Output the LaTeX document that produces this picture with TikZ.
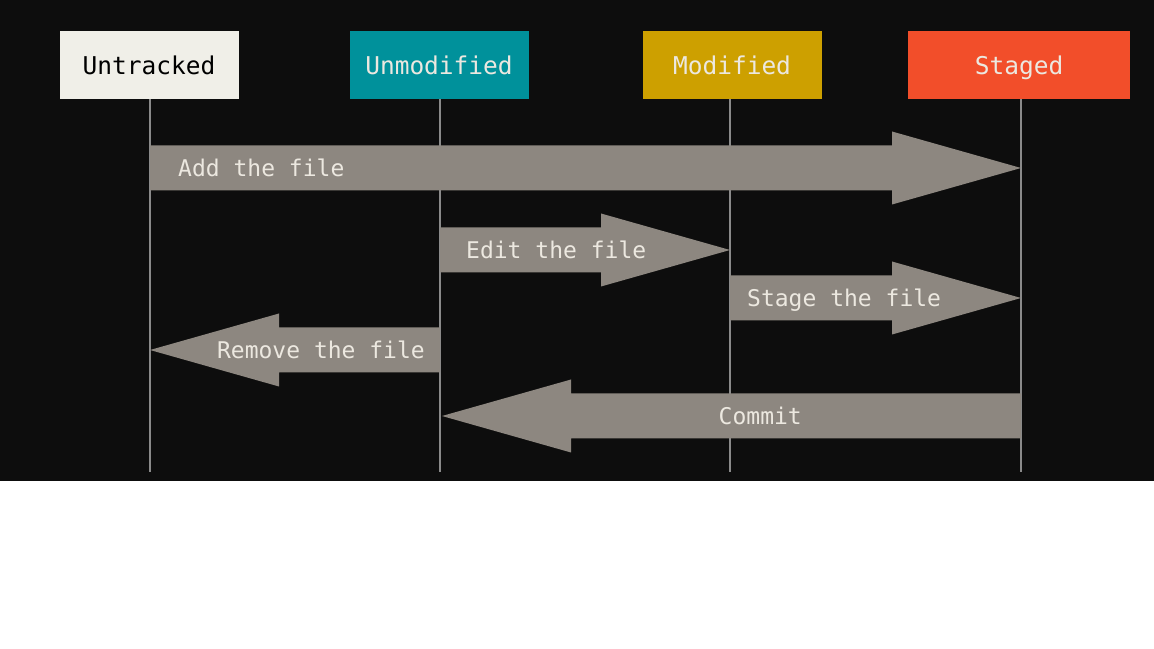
\documentclass[tikz,border=0pt]{standalone}
\usepackage{fontspec}
\setmonofont{DejaVu Sans Mono}
\usetikzlibrary{positioning, calc}

\definecolor{bgdark}{RGB}{13,13,13}
\definecolor{untrackedcol}{RGB}{240,239,232}
\definecolor{unmodifiedcol}{RGB}{0,145,155}
\definecolor{modifiedcol}{RGB}{205,160,0}
\definecolor{stagedcol}{RGB}{242,78,42}
\definecolor{flowgrey}{RGB}{141,135,128}
\definecolor{lifegrey}{RGB}{138,138,138}
\definecolor{labellight}{RGB}{236,232,224}

\begin{document}
\begin{tikzpicture}[
    x=1pt, y=1pt,
    % boxes for the four file states
    state/.style={
        rectangle,
        minimum width=179pt,
        minimum height=68pt,
        inner sep=0pt,
        text depth=0pt,
        font=\ttfamily\fontsize{24.5}{28}\selectfont
    },
    life/.style={draw=lifegrey, line width=1.6pt},
    % fat arrow between two lifelines
    flow/.style={
        fill=flowgrey,
        to path={
            let \p1=(\tikztostart), \p2=(\tikztotarget),
                \p3=({\x2-sign(\x2-\x1)*129pt},\y2) in
            (\x1,\y1+22.5pt) -- (\x3,\y1+22.5pt) -- (\x3,\y1+36.5pt)
            -- (\x2,\y2) -- (\x3,\y1-36.5pt) -- (\x3,\y1-22.5pt)
            -- (\x1,\y1-22.5pt) -- cycle
        }
    },
    flowtext/.style={
        inner sep=0pt,
        text depth=0pt,
        text=labellight,
        font=\ttfamily\fontsize{23}{27}\selectfont
    }
]
    \useasboundingbox (0,0) rectangle (1154,648);
    \fill[white] (0,0) rectangle (1154,648);
    \fill[bgdark] (0,167) rectangle (1154,648);

    % States
    \node [state, fill=untrackedcol, text=black] (untracked) at (149,583) {Untracked};
    \node [state, fill=unmodifiedcol, text=labellight] (unmodified) at (439,583) {Unmodified};
    \node [state, fill=modifiedcol, text=labellight] (modified) at (732,583) {Modified};
    \node [state, fill=stagedcol, text=labellight, minimum width=222pt] (staged) at (1019,583) {Staged};

    % Lifelines
    \coordinate (untracked-end) at ($(untracked.south |- 0,176)+(1,0)$);
    \coordinate (unmodified-end) at ($(unmodified.south |- 0,176)+(1,0)$);
    \coordinate (modified-end) at ($(modified.south |- 0,176)+(-2,0)$);
    \coordinate (staged-end) at ($(staged.south |- 0,176)+(2,0)$);
    \draw [life] (untracked-end |- untracked.south) -- (untracked-end);
    \draw [life] (unmodified-end |- unmodified.south) -- (unmodified-end);
    \draw [life] (modified-end |- modified.south) -- (modified-end);
    \draw [life] (staged-end |- staged.south) -- (staged-end);

    % Arrow ends on the lifelines
    \coordinate (add-a) at (untracked-end |- 0,480);
    \coordinate (add-b) at (staged-end |- 0,480);
    \coordinate (edit-a) at (unmodified-end |- 0,398);
    \coordinate (edit-b) at (modified-end |- 0,398);
    \coordinate (stage-a) at (modified-end |- 0,350);
    \coordinate (stage-b) at (staged-end |- 0,350);
    \coordinate (remove-a) at (unmodified-end |- 0,298);
    \coordinate (remove-b) at (untracked-end |- 0,298);
    \coordinate (commit-a) at (staged-end |- 0,232);
    \coordinate (commit-b) at ($(unmodified-end |- 0,232)+(2,0)$);

    % Arrows
    \path [flow] (add-a) to (add-b);
    \path [flow] (edit-a) to (edit-b);
    \path [flow] (stage-a) to (stage-b);
    \path [flow] (remove-a) to (remove-b);
    \path [flow] (commit-a) to (commit-b);

    % Labels
    \node [flowtext, right=28pt of add-a] (add-label) {Add the file};
    \node [flowtext, right=26pt of edit-a] (edit-label) {Edit the file};
    \node [flowtext, right=17pt of stage-a] (stage-label) {Stage the file};
    \node [flowtext, left=15pt of remove-a] (remove-label) {Remove the file};
    \node [flowtext, left=219pt of commit-a] (commit-label) {Commit};
\end{tikzpicture}
\end{document}
